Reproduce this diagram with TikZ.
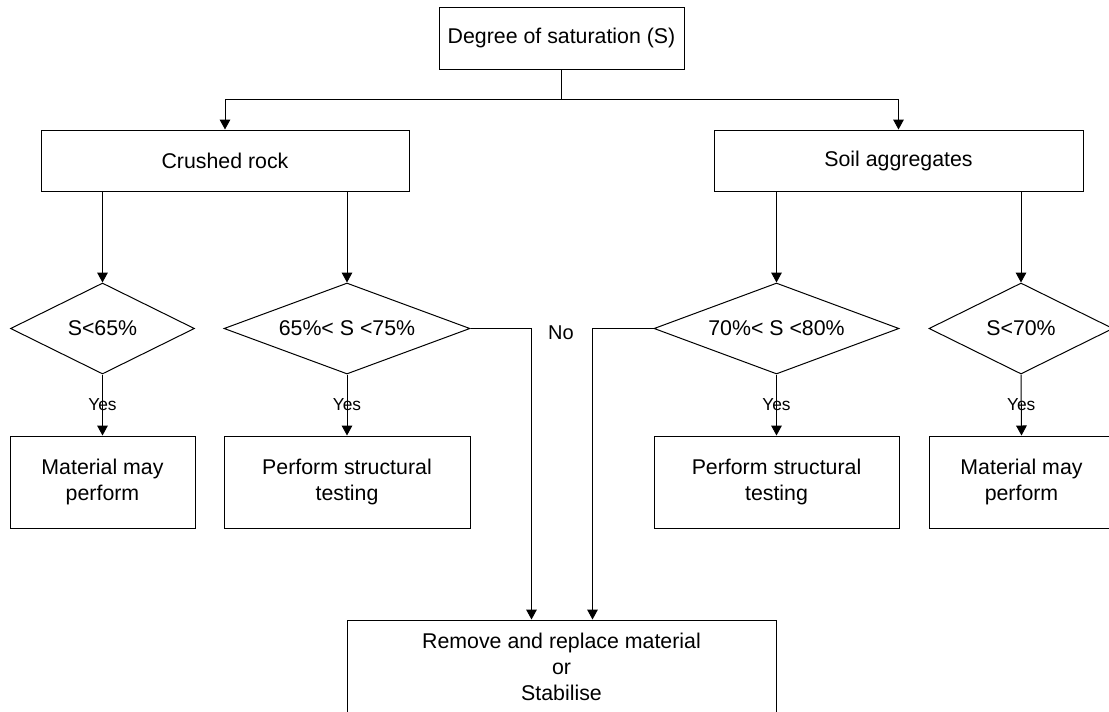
\documentclass[tikz,border=0pt]{standalone}
\usepackage{fontspec}
\setmainfont{Liberation Sans}
\usetikzlibrary{shapes.geometric,arrows.meta}

\begin{document}
\begin{tikzpicture}[x=0.75pt,y=0.75pt,yscale=-1,xscale=1,
        line width=0.75pt,
        box/.style={draw, rectangle, align=center, inner sep=0pt, font=\fontsize{16}{19.5}\selectfont},
        decision/.style={draw, diamond, aspect=2.7, inner sep=0pt, font=\fontsize{16}{19.5}\selectfont},
        arr/.style={-{Triangle[length=7.5pt,width=8pt]}},
        yeslabel/.style={inner sep=0pt, font=\fontsize{13}{15}\selectfont}]
        \useasboundingbox (0,0) rectangle (1109,711);
        \clip (0,0) rectangle (1109,711);
        
        %Shape: Rectangle [top]
        \node[box, minimum width=183.75pt, minimum height=46.5pt] (sat) at (561.5,38) {Degree of saturation (S)};
        %Shape: Rectangle [materials]
        \node[box, minimum width=276pt, minimum height=45.75pt] (crushed) at (225,160.5) {Crushed rock};
        \node[box, minimum width=276.75pt, minimum height=45.75pt] (soil) at (898.5,160.5) {Soil aggregates};
        
        %Shape: Diamond [checks]
        \node[decision, minimum width=138pt, minimum height=68.25pt] (d1) at (102.5,328.5) {S<65\%};
        \node[decision, minimum width=184.5pt, minimum height=68.25pt] (d2) at (347,328.5) {65\%< S <75\%};
        \node[decision, minimum width=183.75pt, minimum height=68.25pt] (d3) at (776.5,328.5) {70\%< S <80\%};
        \node[decision, minimum width=138pt, minimum height=68.25pt] (d4) at (1021,328.5) {S<70\%};
        
        %Shape: Rectangle [outcomes]
        \node[box, minimum width=138.75pt, minimum height=69pt] (may1) at (102.5,482) {Material may\\perform};
        \node[box, minimum width=184.5pt, minimum height=69pt] (test1) at (347,482) {Perform structural\\testing};
        \node[box, minimum width=183.75pt, minimum height=69pt] (test2) at (776.5,482) {Perform structural\\testing};
        \node[box, minimum width=138.75pt, minimum height=69pt] (may2) at (1021.5,482) {Material may\\perform};
        \node[box, minimum width=321.75pt, minimum height=70.5pt] (remove) at (561.5,667) {Remove and replace material\\or\\Stabilise};
        
        %Straight Lines [split]
        \draw (sat.south) -- ++(0,30) coordinate (split);
        \draw[arr] (split) -| (crushed.north);
        \draw[arr] (split) -| (soil.north);
        %Straight Lines [to checks]
        \draw[arr] (d1.north |- crushed.south) -- (d1.north);
        \draw[arr] (d2.north |- crushed.south) -- (d2.north);
        \draw[arr] (d3.north |- soil.south) -- (d3.north);
        \draw[arr] (d4.north |- soil.south) -- (d4.north);
        %Straight Lines [yes]
        \draw[arr] (d1.south) -- node[yeslabel] {Yes} (may1.north);
        \draw[arr] (d2.south) -- node[yeslabel] {Yes} (test1.north);
        \draw[arr] (d3.south) -- node[yeslabel] {Yes} (test2.north);
        \draw[arr] (d4.south) -- node[yeslabel] {Yes} (may2.north);
        %Straight Lines [no]
        \draw[arr] (d2.east) -| ([xshift=-22.5pt]remove.north);
        \draw[arr] (d3.west) -| ([xshift=23.25pt]remove.north);
        
        % Text Node
        \node[font=\fontsize{15}{18}\selectfont] (no) at (561,333) {No};
        
\end{tikzpicture}
\end{document}
